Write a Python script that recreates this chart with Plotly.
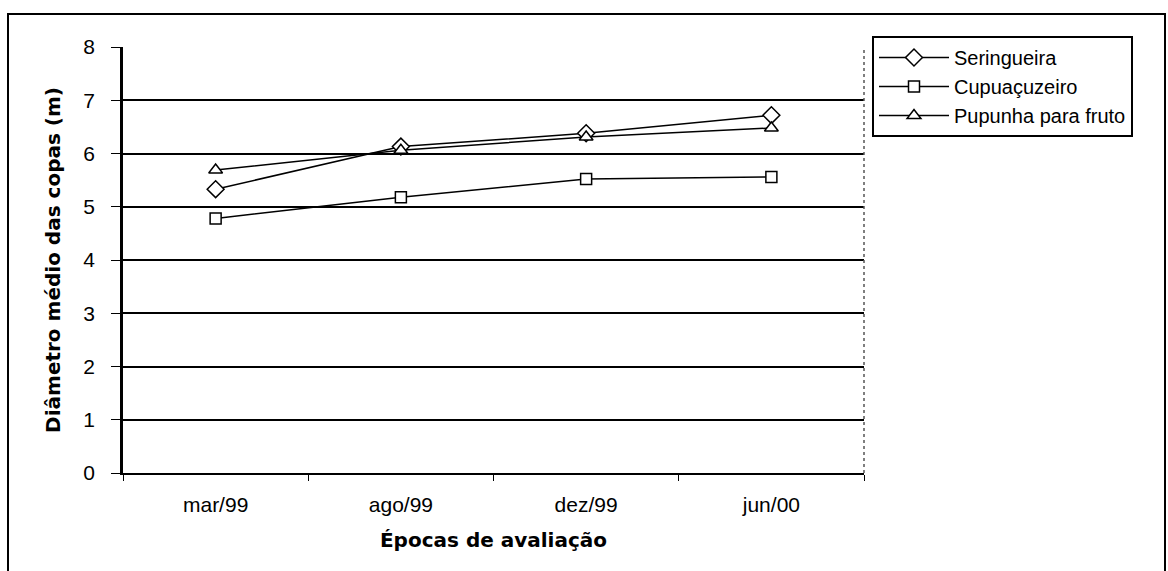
import plotly.graph_objects as go

# Crown diameter (m) by evaluation date
epocas = ["mar/99", "ago/99", "dez/99", "jun/00"]
seringueira = [5.33, 6.13, 6.38, 6.72]
cupuacuzeiro = [4.78, 5.18, 5.52, 5.56]
pupunha = [5.69, 6.06, 6.31, 6.48]

series_names = ["Seringueira", "Cupuaçuzeiro", "Pupunha para fruto"]
series_values = [seringueira, cupuacuzeiro, pupunha]
series_symbols = ["diamond", "square", "triangle-up"]
series_sizes = [13, 11, 12]

y_ticks = [0, 1, 2, 3, 4, 5, 6, 7, 8]

W, H = 1168, 571
L, R, T, B = 123, 1168 - 864, 47, 571 - 473
PW, PH = W - L - R, H - T - B

FONT = "Liberation Sans, Arial, sans-serif"
BOLD = "DejaVu Sans, sans-serif"

fig = go.Figure()
for name, vals, sym, size in zip(series_names, series_values, series_symbols, series_sizes):
    fig.add_trace(go.Scatter(
        x=epocas, y=vals, name=name, mode="lines+markers",
        line=dict(color="black", width=1.5),
        marker=dict(symbol=sym, size=size, color="white",
                    line=dict(color="black", width=1.5)),
    ))


def px_x(px):
    return (px - L) / PW


def px_y(py):
    return (H - B - py) / PH


shapes = [
    # outer frame of the chart (bottom edge runs past the page)
    dict(type="rect", xref="paper", yref="paper",
         x0=px_x(8), x1=px_x(1165), y0=px_y(580), y1=px_y(14),
         line=dict(color="black", width=2), fillcolor="rgba(0,0,0,0)", layer="below"),
    # right edge of the plotting area
    dict(type="line", xref="paper", yref="paper", x0=1, x1=1, y0=0, y1=1,
         line=dict(color="#555555", width=1.5, dash="dot")),
]

fig.update_layout(
    width=W, height=H,
    margin=dict(l=L, r=R, t=T, b=B, pad=0),
    paper_bgcolor="white", plot_bgcolor="white",
    font=dict(family=FONT, color="black"),
    showlegend=True,
    legend=dict(
        x=px_x(872), y=px_y(36), xanchor="left", yanchor="top",
        bordercolor="black", borderwidth=2, bgcolor="white",
        font=dict(family=FONT, size=20, color="black"),
        traceorder="normal", itemwidth=70, entrywidth=200,
    ),
    xaxis=dict(
        type="category", range=[-0.5, 3.5],
        showgrid=False, showline=True, linecolor="black", linewidth=1.5,
        ticks="outside", tickson="boundaries", ticklen=6, tickcolor="black",
        ticklabelstandoff=12,
        tickfont=dict(size=21, family=FONT),
        title=dict(text="Épocas de avaliação", standoff=18,
                   font=dict(size=20, family=BOLD, weight="bold")),
    ),
    yaxis=dict(
        range=[0, 8], tickvals=y_ticks,
        showgrid=True, gridcolor="black", gridwidth=2,
        zeroline=False,
        showline=True, linecolor="black", linewidth=2.5,
        ticks="outside", ticklen=9, tickcolor="black",
        ticklabelstandoff=12,
        tickfont=dict(size=21, family=FONT),
        title=dict(text="Diâmetro médio das copas (m)", standoff=18,
                   font=dict(size=20, family=BOLD, weight="bold")),
    ),
    shapes=shapes,
)

fig.write_html("out.html")
